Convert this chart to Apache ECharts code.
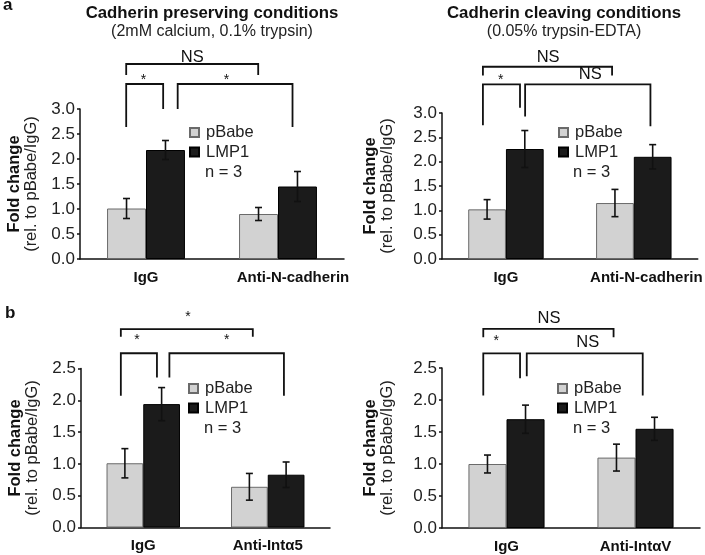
<!DOCTYPE html>
<html><head><meta charset="utf-8">
<script src="https://cdn.jsdelivr.net/npm/echarts@6/dist/echarts.min.js"></script>
<style>html,body{margin:0;padding:0;background:#fff}#c{width:705px;height:555px}</style>
</head><body><div id="c"></div>
<script>
const FONT = '"Liberation Sans", Arial, Helvetica, sans-serif';

// ---------- data ----------
const seriesNames = ['pBabe', 'LMP1'];
const yStep = 0.5;
const yMaxA = 3.0;
const yMaxB = 2.5;

const catsA1 = ['IgG', 'Anti-N-cadherin'];
const pBabeA1 = [1.01, 0.90];
const pBabeErrA1 = [0.20, 0.13];
const lmp1A1 = [2.18, 1.45];
const lmp1ErrA1 = [0.19, 0.30];
// [x1, x2, yTop, yLeftEnd, yRightEnd] (x in category units)
const bracketsA1 = [[-0.15, 0.85, 3.90, 3.68, 3.68], [-0.15, 0.13, 3.50, 2.64, 3.00], [0.24, 1.11, 3.50, 3.00, 2.64]];
const bracketLabelsA1 = [[0.35, 4.04, 'NS'], [-0.02, 3.58, '*'], [0.61, 3.58, '*']];

const catsA2 = ['IgG', 'Anti-N-cadherin'];
const pBabeA2 = [1.02, 1.15];
const pBabeErrA2 = [0.20, 0.28];
const lmp1A2 = [2.26, 2.10];
const lmp1ErrA2 = [0.38, 0.25];
const bracketsA2 = [[-0.18, 0.83, 3.95, 3.77, 3.77], [-0.18, 0.11, 3.59, 2.75, 3.11], [0.15, 1.13, 3.59, 2.93, 2.73]];
const bracketLabelsA2 = [[0.33, 4.14, 'NS'], [-0.04, 3.68, '*'], [0.66, 3.79, 'NS']];

const catsB1 = ['IgG', 'Anti-Intα5'];
const pBabeB1 = [1.01, 0.64];
const pBabeErrB1 = [0.23, 0.21];
const lmp1B1 = [1.94, 0.83];
const lmp1ErrB1 = [0.26, 0.20];
const bracketsB1 = [[-0.18, 0.88, 3.12, 3.00, 3.00], [-0.18, 0.11, 2.74, 2.07, 2.36], [0.21, 1.13, 2.74, 2.36, 2.07]];
const bracketLabelsB1 = [[0.36, 3.30, '*'], [-0.05, 2.94, '*'], [0.67, 2.94, '*']];

const catsB2 = ['IgG', 'Anti-IntαV'];
const pBabeB2 = [1.00, 1.10];
const pBabeErrB2 = [0.14, 0.21];
const lmp1B2 = [1.70, 1.55];
const lmp1ErrB2 = [0.22, 0.18];
const bracketsB2 = [[-0.18, 0.83, 3.11, 2.98, 2.98], [-0.18, 0.105, 2.73, 2.07, 2.34], [0.157, 1.056, 2.73, 2.37, 2.07]];
const bracketLabelsB2 = [[0.33, 3.28, 'NS'], [-0.08, 2.92, '*'], [0.63, 2.90, 'NS']];

const nLabel = 'n = 3';
const yName = ['Fold change', '(rel. to pBabe/IgG)'];
const panelTitles = [
  ['Cadherin preserving conditions', '(2mM calcium, 0.1% trypsin)'],
  ['Cadherin cleaving conditions', '(0.05% trypsin-EDTA)']
];
const panelLetters = ['a', 'b'];

// ---------- assembly ----------
const panels = [
  {cats: catsA1, p: pBabeA1, pe: pBabeErrA1, l: lmp1A1, le: lmp1ErrA1, br: bracketsA1, lb: bracketLabelsA1, max: yMaxA},
  {cats: catsA2, p: pBabeA2, pe: pBabeErrA2, l: lmp1A2, le: lmp1ErrA2, br: bracketsA2, lb: bracketLabelsA2, max: yMaxA},
  {cats: catsB1, p: pBabeB1, pe: pBabeErrB1, l: lmp1B1, le: lmp1ErrB1, br: bracketsB1, lb: bracketLabelsB1, max: yMaxB},
  {cats: catsB2, p: pBabeB2, pe: pBabeErrB2, l: lmp1B2, le: lmp1ErrB2, br: bracketsB2, lb: bracketLabelsB2, max: yMaxB}
];
const layout = [
  {grid: {left: 80, top: 109, width: 264, height: 150}, nameGap: 40, legend: {left: 189, top: 124}, n: [205, 172], shift: 30},
  {grid: {left: 442, top: 113, width: 258, height: 146}, nameGap: 46, legend: {left: 558, top: 124}, n: [573, 172], shift: 25},
  {grid: {left: 81, top: 368.5, width: 249, height: 159}, nameGap: 40, legend: {left: 188, top: 380}, n: [204, 428], shift: 0},
  {grid: {left: 442, top: 368, width: 258, height: 160}, nameGap: 46, legend: {left: 557, top: 380}, n: [573, 428], shift: 0}
];
const GAP = 0.41;

function errRender(sign) {
  return function (params, api) {
    const c = api.value(0), v = api.value(1), e = api.value(2);
    const band = api.size([1, 0])[0];
    const bw = band * (1 - GAP) / 2;
    const x = api.coord([c, v])[0] + sign * bw / 2;
    const yT = api.coord([c, v + e])[1], yB = api.coord([c, v - e])[1];
    const cap = 3.5, st = {stroke: '#111', lineWidth: 1.6};
    return {type: 'group', children: [
      {type: 'line', shape: {x1: x, y1: yT, x2: x, y2: yB}, style: st},
      {type: 'line', shape: {x1: x - cap, y1: yT, x2: x + cap, y2: yT}, style: st},
      {type: 'line', shape: {x1: x - cap, y1: yB, x2: x + cap, y2: yB}, style: st}
    ]};
  };
}
function bracketRender(params, api) {
  const band = api.size([1, 0])[0];
  const px = (c, f, y) => { const p = api.coord([c, y]); return [p[0] + f * band, p[1]]; };
  const c1 = api.value(0), yT = api.value(1), f1 = api.value(2), c2 = api.value(3), f2 = api.value(4), yL = api.value(5), yR = api.value(6);
  return {type: 'polyline', shape: {points: [px(c1, f1, yL), px(c1, f1, yT), px(c2, f2, yT), px(c2, f2, yR)]},
    style: {stroke: '#111', lineWidth: 1.8, fill: null}};
}
function labelRender(list) {
  return function (params, api) {
    const band = api.size([1, 0])[0];
    const c = api.value(0), y = api.value(1), f = api.value(2);
    const p = api.coord([c, y]);
    const t = list[api.value(3)][2];
    return {type: 'text', x: p[0] + f * band, y: p[1],
      style: {text: t, align: 'center', verticalAlign: 'middle', fontFamily: FONT,
        fontSize: t === '*' ? 14 : 16.5, fill: '#111'}};
  };
}

const option = {animation: false, backgroundColor: '#fff', textStyle: {fontFamily: FONT},
  grid: [], xAxis: [], yAxis: [], series: [], legend: [], graphic: []};

panels.forEach((pn, i) => {
  const L = layout[i];
  option.grid.push(L.grid);
  option.xAxis.push({type: 'category', gridIndex: i,
    data: pn.cats.map((c, k) => (k === 1 && L.shift) ? {value: c, textStyle: {padding: [0, 0, 0, L.shift]}} : c),
    axisLine: {lineStyle: {color: '#111', width: 1.5}}, axisTick: {show: false},
    axisLabel: {color: '#111', fontSize: 15, fontWeight: 'bold', margin: 11, fontFamily: FONT, interval: 0}});
  option.yAxis.push({type: 'value', gridIndex: i, min: 0, max: pn.max, interval: yStep, splitLine: {show: false},
    axisLine: {show: true, lineStyle: {color: '#111', width: 1.5}},
    axisTick: {show: true, length: 3, lineStyle: {color: '#111', width: 1.5}},
    axisLabel: {color: '#222', fontSize: 17, margin: 5, fontFamily: FONT, formatter: v => v.toFixed(1)},
    name: '{t|' + yName[0] + '}\n{s|' + yName[1] + '}', nameLocation: 'middle', nameRotate: 90, nameGap: L.nameGap,
    nameTextStyle: {rich: {
      t: {fontSize: 16.5, fontWeight: 'bold', color: '#111', lineHeight: 17, fontFamily: FONT},
      s: {fontSize: 16.5, color: '#222', lineHeight: 17, fontFamily: FONT}}}});
  option.series.push({type: 'bar', name: seriesNames[0], xAxisIndex: i, yAxisIndex: i, data: pn.p,
    barGap: '0%', barCategoryGap: (GAP * 100) + '%',
    itemStyle: {color: '#d2d2d2', borderColor: '#6a6a6a', borderWidth: 1}});
  option.series.push({type: 'bar', name: seriesNames[1], xAxisIndex: i, yAxisIndex: i, data: pn.l,
    barGap: '0%', barCategoryGap: (GAP * 100) + '%',
    itemStyle: {color: '#1b1b1b', borderColor: '#000', borderWidth: 1}});
  option.series.push({type: 'custom', name: 'err-p' + i, xAxisIndex: i, yAxisIndex: i, z: 5,
    data: pn.p.map((v, k) => [k, v, pn.pe[k]]), encode: {x: 0, y: 1}, renderItem: errRender(-1)});
  option.series.push({type: 'custom', name: 'err-l' + i, xAxisIndex: i, yAxisIndex: i, z: 5,
    data: pn.l.map((v, k) => [k, v, pn.le[k]]), encode: {x: 0, y: 1}, renderItem: errRender(1)});
  option.series.push({type: 'custom', name: 'br' + i, xAxisIndex: i, yAxisIndex: i, clip: false, z: 5,
    data: pn.br.map(b => { const c1 = Math.round(b[0]), c2 = Math.round(b[1]); return [c1, b[2], b[0] - c1, c2, b[1] - c2, b[3], b[4]]; }),
    encode: {x: 0, y: 1}, renderItem: bracketRender});
  option.series.push({type: 'custom', name: 'lb' + i, xAxisIndex: i, yAxisIndex: i, clip: false, z: 5,
    data: pn.lb.map((m, k) => { const c = Math.round(m[0]); return [c, m[1], m[0] - c, k]; }),
    encode: {x: 0, y: 1}, renderItem: labelRender(pn.lb)});
  option.legend.push({data: seriesNames, orient: 'vertical', left: L.legend.left, top: L.legend.top,
    itemWidth: 9, itemHeight: 9, itemGap: 2.5, icon: 'rect', padding: 0, selectedMode: false,
    textStyle: {fontSize: 16.5, color: '#222', lineHeight: 17, fontFamily: FONT, padding: [0, 0, 0, 2]}});
  option.graphic.push({type: 'text', x: L.n[0], y: L.n[1],
    style: {text: nLabel, align: 'left', verticalAlign: 'middle', fontSize: 16.5, fill: '#222', fontFamily: FONT}});
});

option.graphic.push(
  {type: 'text', x: 3, y: 5, style: {text: panelLetters[0], fontSize: 17, fontWeight: 'bold', fill: '#111', verticalAlign: 'middle', fontFamily: FONT}},
  {type: 'text', x: 5, y: 313, style: {text: panelLetters[1], fontSize: 17, fontWeight: 'bold', fill: '#111', verticalAlign: 'middle', fontFamily: FONT}},
  {type: 'text', x: 212, y: 13, style: {text: panelTitles[0][0], fontSize: 16.8, fontWeight: 'bold', fill: '#111', align: 'center', verticalAlign: 'middle', fontFamily: FONT}},
  {type: 'text', x: 212, y: 32, style: {text: panelTitles[0][1], fontSize: 16, fill: '#222', align: 'center', verticalAlign: 'middle', fontFamily: FONT}},
  {type: 'text', x: 564, y: 13, style: {text: panelTitles[1][0], fontSize: 16.8, fontWeight: 'bold', fill: '#111', align: 'center', verticalAlign: 'middle', fontFamily: FONT}},
  {type: 'text', x: 564, y: 32, style: {text: panelTitles[1][1], fontSize: 16, fill: '#222', align: 'center', verticalAlign: 'middle', fontFamily: FONT}}
);

const chart = echarts.init(document.getElementById('c'), null, {renderer: 'canvas'});
chart.setOption(option);
</script>
</body></html>
